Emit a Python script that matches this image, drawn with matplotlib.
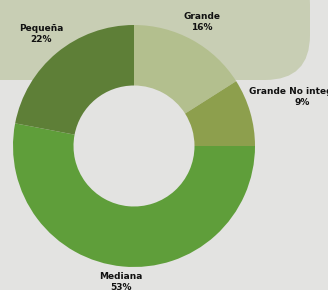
import matplotlib.pyplot as plt
from matplotlib.patches import FancyBboxPatch
import numpy as np

# datos
categorias = ['Grande', 'Grande No integrada', 'Mediana', 'Pequeña']
porcentajes = [16, 9, 53, 22]
colores = ['#b3bf8e', '#8d9f4d', '#5f9e3a', '#5e7f37']

# distancia de cada etiqueta (en radios)
dist_etiquetas = [1.17, 1.45, 1.13, 1.2]

fig = plt.figure(figsize=(3.28, 2.90), dpi=100)
fig.patch.set_facecolor('#e3e3e1')
ax = fig.add_axes([0, 0, 1, 1])

# fondo: recuadro verde claro arriba
caja = FancyBboxPatch((-60, 210), 370, 120, boxstyle='round,pad=0,rounding_size=45',
                      facecolor='#c8ceb4', edgecolor='none', zorder=0)
ax.add_patch(caja)

centro = (134, 144)
radio = 121
wedges, _ = ax.pie(porcentajes, colors=colores, startangle=90, counterclock=False,
                   center=centro, radius=radio,
                   wedgeprops=dict(width=radio * 0.5, edgecolor='none'))

for w, cat, p, d in zip(wedges, categorias, porcentajes, dist_etiquetas):
    ang = np.deg2rad((w.theta1 + w.theta2) / 2)
    x = centro[0] + radio * d * np.cos(ang)
    y = centro[1] + radio * d * np.sin(ang)
    ax.text(x, y, '%s\n%d%%' % (cat, p), ha='center', va='center',
            fontsize=6.5, fontweight='bold', color='#111111', linespacing=1.3)

ax.set_xlim(0, 328)
ax.set_ylim(0, 290)
ax.set_aspect('auto')
ax.axis('off')

fig.savefig('out.png', dpi=100, facecolor=fig.get_facecolor())
